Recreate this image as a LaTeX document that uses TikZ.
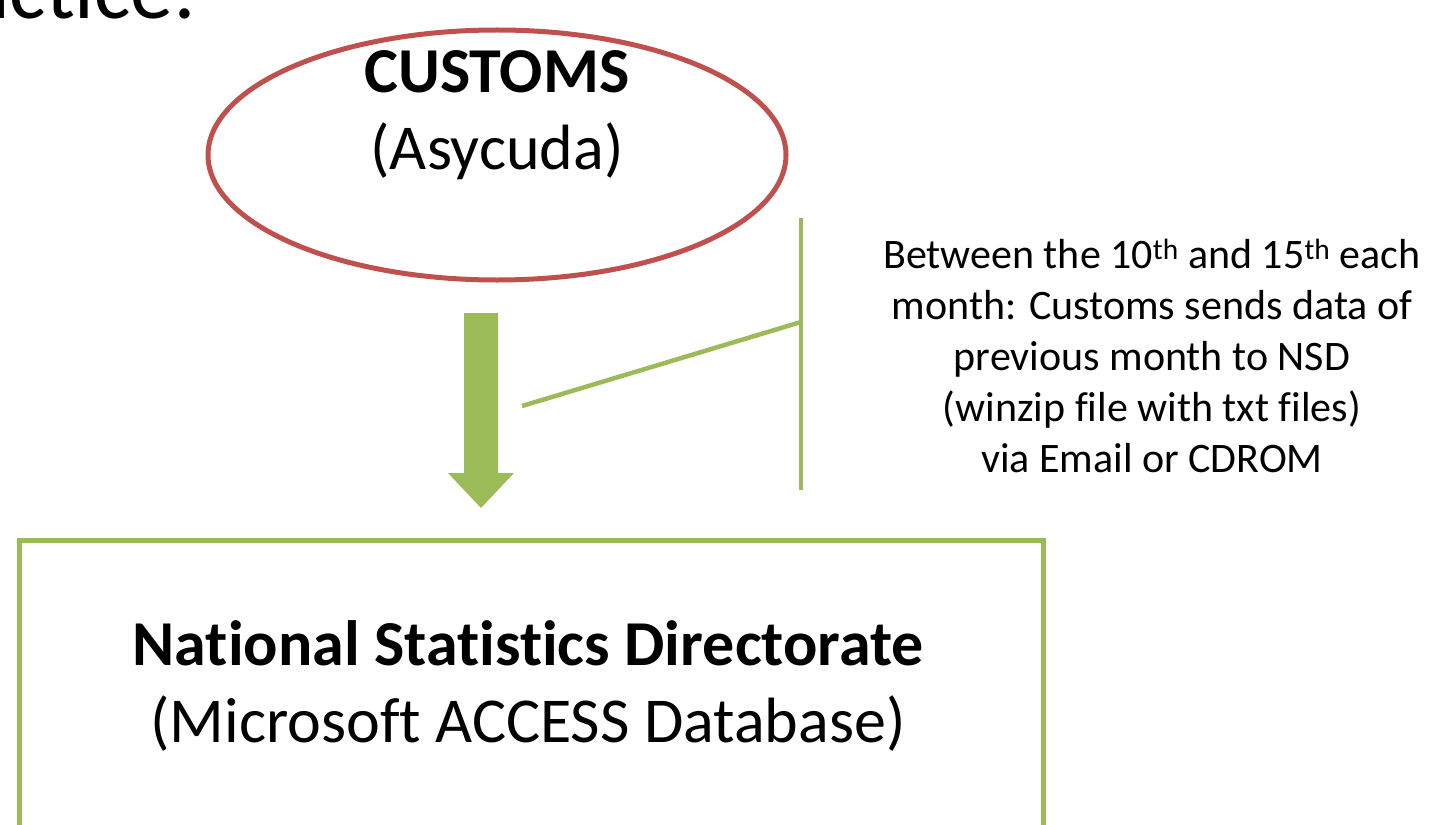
\documentclass[tikz,border=0pt]{standalone}
\usepackage{fontspec}
\setmainfont{Carlito}[Ligatures={NoCommon}]
\usetikzlibrary{shapes.geometric}
\definecolor{cred}{HTML}{C0504D}
\definecolor{cgreen}{HTML}{9BBB59}
\begin{document}
\begin{tikzpicture}[x=1pt,y=-1pt,
  bigtxt/.style={font=\fontsize{64}{77}\selectfont, align=center, inner sep=0pt},
  smalltxt/.style={font=\fontsize{42}{51}\selectfont, align=center, inner sep=0pt},
  gline/.style={draw=cgreen, line width=4.5pt}]
\useasboundingbox (0,0) rectangle (1442,824);
\clip (0,0) rectangle (1442,824);
\fill[white] (0,0) rectangle (1442,824);
% cut-off title
\node[font=\fontsize{86}{100}\selectfont, anchor=base east, inner sep=0pt] (title) at (197,19) {actice:};
% ellipse
\node[draw=cred, line width=5pt, ellipse, minimum width=578pt, minimum height=250pt, inner sep=0pt] (cust) at (497,155) {};
\node[bigtxt] (custtxt) at (497,115) {\textbf{CUSTOMS}\\(Asycuda)};
% box
\node[draw=cgreen, line width=5pt, rectangle, minimum width=1024pt, minimum height=300pt, anchor=north west, inner sep=0pt] (nsd) at (16.5,537.5) {};
\node[bigtxt] (nsdtxt) at (528,686) {\textbf{National Statistics Directorate}\\(Microsoft ACCESS Database)};
% block arrow
\fill[cgreen] (464,313) -- (498,313) -- (498,473) -- (514,473) -- (481,508) -- (448,473) -- (464,473) -- cycle;
\coordinate (arrowtop) at (481,313);
% callout
\coordinate (vtop) at (801,218);
\coordinate (vbot) at (801,490);
\coordinate (vmid) at (801,322);
\coordinate (ptr) at (522,406);
\draw[gline] (vtop) -- (vbot);
\draw[gline] (vmid) -- (ptr);
\node[smalltxt] (note) at (1152,356) {Between the 10\textsuperscript{th} and 15\textsuperscript{th} each\\month: Customs sends data of\\previous month to NSD\\(winzip file with txt files)\\via Email or CDROM};
\end{tikzpicture}
\end{document}
